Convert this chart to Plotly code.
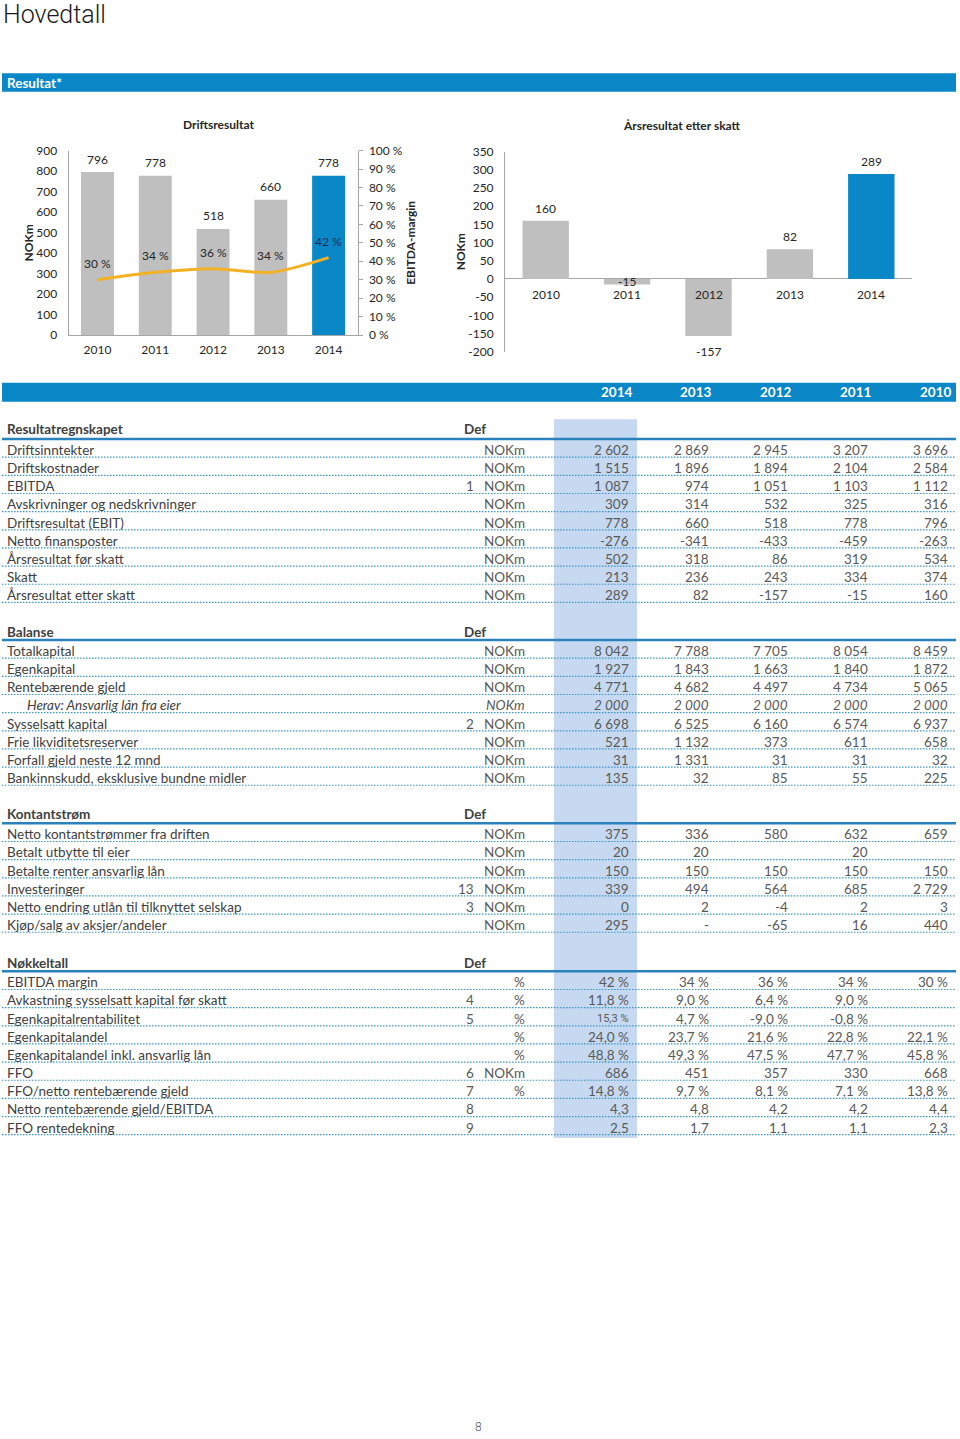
import plotly.graph_objects as go

W, H = 960, 1439

# ---------------- chart data ----------------
years = ["2010", "2011", "2012", "2013", "2014"]
driftsresultat = [796, 778, 518, 660, 778]
ebitda_margin = [30, 34, 36, 34, 42]
arsresultat = [160, -15, -157, 82, 289]

# ---------------- table data ----------------
table_years = ["2014", "2013", "2012", "2011", "2010"]

res_labels = ["Driftsinntekter", "Driftskostnader", "EBITDA", "Avskrivninger og nedskrivninger",
              "Driftsresultat (EBIT)", "Netto finansposter", "Årsresultat før skatt", "Skatt",
              "Årsresultat etter skatt"]
res_defs = ["", "", "1", "", "", "", "", "", ""]
res_units = ["NOKm"] * 9
res_values = [
    [2602, 2869, 2945, 3207, 3696],
    [1515, 1896, 1894, 2104, 2584],
    [1087, 974, 1051, 1103, 1112],
    [309, 314, 532, 325, 316],
    [778, 660, 518, 778, 796],
    [-276, -341, -433, -459, -263],
    [502, 318, 86, 319, 534],
    [213, 236, 243, 334, 374],
    [289, 82, -157, -15, 160],
]

bal_labels = ["Totalkapital", "Egenkapital", "Rentebærende gjeld", "Herav: Ansvarlig lån fra eier",
              "Sysselsatt kapital", "Frie likviditetsreserver", "Forfall gjeld neste 12 mnd",
              "Bankinnskudd, eksklusive bundne midler"]
bal_defs = ["", "", "", "", "2", "", "", ""]
bal_units = ["NOKm"] * 8
bal_values = [
    [8042, 7788, 7705, 8054, 8459],
    [1927, 1843, 1663, 1840, 1872],
    [4771, 4682, 4497, 4734, 5065],
    [2000, 2000, 2000, 2000, 2000],
    [6698, 6525, 6160, 6574, 6937],
    [521, 1132, 373, 611, 658],
    [31, 1331, 31, 31, 32],
    [135, 32, 85, 55, 225],
]

kon_labels = ["Netto kontantstrømmer fra driften", "Betalt utbytte til eier",
              "Betalte renter ansvarlig lån", "Investeringer",
              "Netto endring utlån til tilknyttet selskap", "Kjøp/salg av aksjer/andeler"]
kon_defs = ["", "", "", "13", "3", ""]
kon_units = ["NOKm"] * 6
kon_values = [
    [375, 336, 580, 632, 659],
    [20, 20, None, 20, None],
    [150, 150, 150, 150, 150],
    [339, 494, 564, 685, 2729],
    [0, 2, -4, 2, 3],
    [295, "-", -65, 16, 440],
]

nok_labels = ["EBITDA margin", "Avkastning sysselsatt kapital før skatt", "Egenkapitalrentabilitet",
              "Egenkapitalandel", "Egenkapitalandel inkl. ansvarlig lån", "FFO",
              "FFO/netto rentebærende gjeld", "Netto rentebærende gjeld/EBITDA", "FFO rentedekning"]
nok_defs = ["", "4", "5", "", "", "6", "7", "8", "9"]
nok_units = ["%", "%", "%", "%", "%", "NOKm", "%", "", ""]
nok_formats = ["pct0", "pct1", "pct1", "pct1", "pct1", "int", "pct1", "dec1", "dec1"]
nok_values = [
    [42, 34, 36, 34, 30],
    [11.8, 9.0, 6.4, 9.0, None],
    [15.3, 4.7, -9.0, -0.8, None],
    [24.0, 23.7, 21.6, 22.8, 22.1],
    [48.8, 49.3, 47.5, 47.7, 45.8],
    [686, 451, 357, 330, 668],
    [14.8, 9.7, 8.1, 7.1, 13.8],
    [4.3, 4.8, 4.2, 4.2, 4.4],
    [2.5, 1.7, 1.1, 1.1, 2.3],
]

# ---------------- styles ----------------
BLUE = "#0a87c7"
GREY_BAR = "#bfbfbf"
LINE_COL = "#f2b224"
AXIS_COL = "#a6a6a6"
TXT = "#404040"
VAL = "#595959"
HIGHLIGHT = "#c6d9f1"
DOT_COL = "#3a95cc"
FONT = "Lato"
NARROW = "Roboto"


def px(x):
    return x / W


def py(y):
    return 1 - y / H


def fmt(v, kind):
    if v is None:
        return ""
    if isinstance(v, str):
        return v
    if kind == "int":
        return f"{v:,}".replace(",", " ")
    if kind == "pct0":
        return f"{v} %"
    if kind == "pct1":
        return f"{v:.1f}".replace(".", ",") + " %"
    if kind == "dec1":
        return f"{v:.1f}".replace(".", ",")
    return str(v)


fig = go.Figure()

bar_colors = [GREY_BAR] * (len(years) - 1) + [BLUE]

# Left chart: Driftsresultat + EBITDA margin
fig.add_trace(go.Bar(x=years, y=driftsresultat, marker=dict(color=bar_colors, line=dict(width=0)),
                     xaxis="x", yaxis="y", hoverinfo="skip"))
fig.add_trace(go.Scatter(x=years, y=ebitda_margin, mode="lines",
                         line=dict(color=LINE_COL, width=3, shape="spline", smoothing=0.8),
                         xaxis="x", yaxis="y2", hoverinfo="skip"))
# Right chart: Årsresultat etter skatt
fig.add_trace(go.Bar(x=years, y=arsresultat, marker=dict(color=bar_colors, line=dict(width=0)),
                     xaxis="x2", yaxis="y3", hoverinfo="skip"))

annotations = []
shapes = []


def ann(x, y, text, size=13.5, color=TXT, xanchor="left", family=FONT, yanchor="middle", weight=None):
    f = dict(size=size, color=color, family=family)
    if weight:
        f["weight"] = weight
    annotations.append(dict(x=px(x), y=py(y), xref="paper", yref="paper", text=text,
                            showarrow=False, xanchor=xanchor, yanchor=yanchor, font=f))


# Title
ann(1, 14.5, "Hovedtall", size=25, color="#1a1a1a", family=NARROW, weight=300)

# Resultat* bar
shapes.append(dict(type="rect", xref="paper", yref="paper", x0=px(2), x1=px(956),
                   y0=py(73.3), y1=py(91.7), fillcolor=BLUE, line=dict(width=0), layer="above"))
ann(5, 82.5, "<b>Resultat*</b>", size=13.5, color="white")

# Chart titles
ann(218.5, 125, "<b>Driftsresultat</b>", size=12, color="#262626", xanchor="center")
ann(682, 126, "<b>Årsresultat etter skatt</b>", size=12, color="#262626", xanchor="center")

CHART_FONT = dict(size=12, color="#262626", family=FONT)

# Bar value labels (left) - x given as category index
for i, v in enumerate(driftsresultat):
    annotations.append(dict(x=i, y=v, xref="x", yref="y", text=str(v), showarrow=False,
                            yanchor="middle", yshift=13, font=CHART_FONT))
# Line labels
for i, v in enumerate(ebitda_margin):
    col = "#172c55" if i == len(years) - 1 else "#262626"
    annotations.append(dict(x=i, y=v, xref="x", yref="y2", text=f"{v} %", showarrow=False,
                            yanchor="middle", yshift=16.5,
                            font=dict(size=12, color=col, family=FONT)))
# Right chart: bar labels and category labels at zero line
for i, (yr, v) in enumerate(zip(years, arsresultat)):
    if v >= 0:
        shift = 12.5
    elif v > -50:
        shift = 3
    else:
        shift = -15
    annotations.append(dict(x=i, y=v, xref="x2", yref="y3", text=str(v), showarrow=False,
                            yanchor="middle", yshift=shift, font=CHART_FONT))
    annotations.append(dict(x=i, y=0, xref="x2", yref="y3", text=yr, showarrow=False,
                            yanchor="middle", yshift=-15.6, font=CHART_FONT))

# ---------------- table ----------------
shapes.append(dict(type="rect", xref="paper", yref="paper", x0=px(2), x1=px(956),
                   y0=py(382.7), y1=py(401.7), fillcolor=BLUE, line=dict(width=0), layer="above"))
year_right = [634, 713, 793, 873, 953]
for yx, yr in zip(year_right, table_years):
    ann(yx, 392.2, f"<b>{yr}</b>", size=13.5, color="white", xanchor="right")

shapes.append(dict(type="rect", xref="paper", yref="paper", x0=px(554), x1=px(637),
                   y0=py(419.3), y1=py(1138), fillcolor=HIGHLIGHT, line=dict(width=0), layer="above"))

sections = [
    ("Resultatregnskapet", res_labels, res_defs, res_units, res_values, ["int"] * 9),
    ("Balanse", bal_labels, bal_defs, bal_units, bal_values, ["int"] * 8),
    ("Kontantstrøm", kon_labels, kon_defs, kon_units, kon_values, ["int"] * 6),
    ("Nøkkeltall", nok_labels, nok_defs, nok_units, nok_values, nok_formats),
]
sec_header_y = [429.3, 632.3, 814.0, 962.7]
sec_first_y = [450.0, 651.0, 834.3, 982.3]
PITCH = 18.15
val_right = [631, 710.5, 790, 869.5, 950]
ITALIC_ROWS = {("Balanse", 3)}
NARROW_CELLS = {("Nøkkeltall", 2, 0)}

for (title, labels, defs, units, values, fmts), hy, fy in zip(sections, sec_header_y, sec_first_y):
    ann(5, hy, f"<b>{title}</b>", size=13.5, color=TXT)
    ann(462, hy, "<b>Def</b>", size=13.5, color=TXT)
    shapes.append(dict(type="line", xref="paper", yref="paper", x0=px(2), x1=px(956),
                       y0=py(fy - 11), y1=py(fy - 11),
                       line=dict(color="#2a82bd", width=2.5), layer="above"))
    for i, lab in enumerate(labels):
        ry = fy + i * PITCH
        italic = (title, i) in ITALIC_ROWS

        def st(t):
            return f"<i>{t}</i>" if italic and t else t

        ann(25 if italic else 5, ry, st(lab), color=TXT)
        if defs[i]:
            ann(476, ry, defs[i], color=VAL, xanchor="right")
        if units[i]:
            ann(527, ry, st(units[i]), color=VAL, xanchor="right")
        for j, v in enumerate(values[i]):
            t = fmt(v, fmts[i])
            if not t:
                continue
            if (title, i, j) in NARROW_CELLS:
                ann(val_right[j], ry, t, size=11, color=VAL, xanchor="right", family=NARROW)
            else:
                ann(val_right[j], ry, st(t), color=VAL, xanchor="right")
        shapes.append(dict(type="line", xref="paper", yref="paper", x0=px(2), x1=px(956),
                           y0=py(ry + 7.2), y1=py(ry + 7.2),
                           line=dict(color=DOT_COL, width=1.2, dash="1.5px,1.5px"), layer="above"))

# page number
ann(478.5, 1426.5, "8", size=12, color="#595959", xanchor="center", family=NARROW, weight=300)

axis_common = dict(showgrid=False, fixedrange=True, linecolor=AXIS_COL, linewidth=1,
                   automargin=False, tickfont=CHART_FONT)

y3_ticks = list(range(-200, 351, 50))

fig.update_layout(
    template="none",
    width=W, height=H,
    margin=dict(l=0, r=0, t=0, b=0, pad=0, autoexpand=False),
    paper_bgcolor="white", plot_bgcolor="rgba(0,0,0,0)",
    showlegend=False,
    bargap=0.43,
    font=dict(family=FONT, color=TXT),
    xaxis=dict(domain=[px(68.6), px(357.5)], anchor="y", type="category",
               range=[-0.5, len(years) - 0.5], showline=True, ticklabelstandoff=4,
               ticks="", zeroline=False, **axis_common),
    yaxis=dict(domain=[py(335), py(150.7)], range=[0, 900], dtick=100, showline=True,
               anchor="x", ticks="", zeroline=False, ticklabelstandoff=8,
               title=dict(text="<b>NOKm</b>", font=dict(size=12, color="#262626"), standoff=0),
               **axis_common),
    yaxis2=dict(overlaying="y", side="right", anchor="x", range=[0, 100], dtick=10,
                ticksuffix=" %", showline=True, ticks="outside", ticklen=4, tickcolor=AXIS_COL,
                zeroline=False, ticklabelstandoff=4,
                title=dict(text="<b>EBITDA-margin</b>", font=dict(size=12, color="#262626"), standoff=4),
                **axis_common),
    xaxis2=dict(domain=[px(505), px(912)], anchor="y3", type="category",
                range=[-0.5, len(years) - 0.5], showline=False,
                showticklabels=False, ticks="", zeroline=False, **axis_common),
    yaxis3=dict(domain=[py(351.7), py(151.7)], range=[-200, 350], showline=True,
                tickmode="array", tickvals=y3_ticks, ticktext=[str(t) for t in y3_ticks],
                anchor="x2", ticks="", zeroline=True, zerolinecolor=AXIS_COL, zerolinewidth=1,
                ticklabelstandoff=8,
                title=dict(text="<b>NOKm</b>", font=dict(size=12, color="#262626"), standoff=0),
                **axis_common),
    annotations=annotations,
    shapes=shapes,
)

fig.write_html("out.html",
               config={"displayModeBar": False},
               post_script="document.body.style.margin='0';document.body.style.padding='0';")
